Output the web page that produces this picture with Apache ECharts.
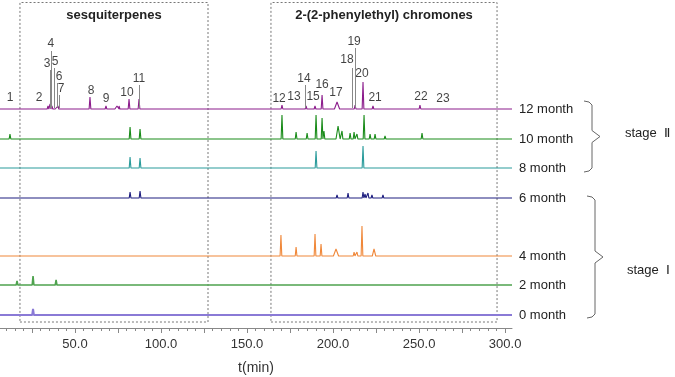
<!DOCTYPE html>
<html lang="en">
<head>
  <meta charset="UTF-8" />
  <title>Chromatograms</title>
  <script src="https://cdn.jsdelivr.net/npm/echarts@6.0.0/dist/echarts.min.js"></script>
  <style>
    html, body { margin: 0; padding: 0; background: #fff; }
    #chart { width: 675px; height: 377px; }
  </style>
</head>
<body>
  <div id="chart"></div>
  <script>
    // retention time range shown (min)
    var tMin = 6.4;
    var tMax = 304;

    var sampleNames = ['12 month', '10 month', '8 month', '6 month', '4 month', '2 month', '0 month'];
    var sampleColors = ['#8c1d8c', '#1a8c1a', '#2b9c9c', '#1f1f80', '#f0883a', '#4fa34f', '#8a7ad6'];
    var sampleWidths = [1.1, 1.1, 1.1, 1.1, 1.1, 1.6, 2];
    // vertical stacking offset of each trace
    var sampleOffsets = [219, 189, 160, 130, 72, 43, 13];

    // peaks: [retention time, height, half width]
    var peaks12 = [[12.8,1.5],[30.2,2],[34.3,3],[35.5,5],[36.6,3],[39.0,2],[40.1,3],[58.7,12],[68.0,3],
      [74.4,3,1.2],[75.6,3],[81.4,10],[87.2,10],[101.2,1],[170.3,4],[178.5,2],[184.3,3],[189.5,3],
      [193.6,14],[202.3,7,1.5],[211.0,2],[212.8,4],[217.4,27],[223.2,3],[229.6,1.5,1],[250.5,4],[285.4,1]];
    var peaks10 = [[12.2,5],[30.8,2],[37.2,1],[39.5,1],[58.7,2],[65.7,1],[75.6,1],[82.0,12],[87.8,10],
      [101.2,2],[109.9,1],[170.3,24],[178.5,7],[184.9,6],[190.1,24],[193.6,21],[194.7,8],[202.9,13,1.2],
      [205.2,8],[209.9,6],[212.2,7],[213.9,5],[218.0,24],[221.5,5],[224.4,5],[230.2,3],[251.7,6],
      [263.3,1],[277.9,1]];
    var peaks8 = [[30.8,1],[37.2,1],[44.2,1],[46.5,2],[58.1,2],[66.3,1],[75.6,1],[82.0,11],[87.8,10],
      [93.0,2],[101.7,2],[109.9,2],[113.4,2],[168.6,1],[190.1,17],[192.4,2],[197.1,1],[202.3,1],
      [208.7,2],[213.3,2],[217.4,22],[250.5,1],[277.9,1]];
    var peaks6 = [[45.9,1],[58.7,1],[68.0,1],[80.2,1],[82.0,6],[87.8,7],[93.0,2],[101.2,2],[109.9,2],
      [111.6,2],[170.3,1],[179.0,1],[184.9,1],[189.5,2],[193.0,2],[202.3,3],[204.6,2],[208.7,5],
      [217.4,6],[218.6,4],[220.3,5],[222.6,3],[229.0,3],[251.1,1],[277.9,2]];
    var peaks4 = [[13.4,1],[30.8,1],[40.1,1],[42.4,1],[58.1,2],[80.8,2],[86.0,2],[100.6,1],[169.7,21],
      [178.5,9],[184.9,2],[189.5,22],[193.0,12],[201.7,7,1.5],[212.2,4],[213.9,4],[216.8,30],
      [223.8,7,1],[235.4,1],[249.4,1]];
    var peaks2 = [[16.3,4],[25.6,9],[39.0,5],[62.8,2],[87.8,1],[97.7,1],[144.2,1],[170.9,1]];
    var peaks0 = [[16.3,1],[25.6,6]];
    var samplePeaks = [peaks12, peaks10, peaks8, peaks6, peaks4, peaks2, peaks0];

    // numbered peaks on the 12 month trace: label position and label height
    var peakNums = ['1','2','3','4','5','6','7','8','9','10','11','12','13','14','15','16','17','18','19','20','21','22','23'];
    var peakLabelT = [12.2,29.1,33.7,36.0,38.4,40.7,41.9,59.3,68.0,80.2,87.2,168.6,177.3,183.1,188.4,193.6,201.7,208.1,212.2,216.8,224.4,251.1,263.9];
    var peakLabelH = [11,11,45,65,47,32,20,18,10,16,30,10,12,30,12,24,16,49,67,35,11,12,10];
    // leader lines: [retention time, top height]
    var leaders = [[35.5,39],[36.0,58],[37.8,41],[39.5,26],[40.7,14],[87.2,24],[183.7,24],[211.0,41],[212.8,61]];

    var boxes = [
      { name: 'sesquiterpenes', from: 18.0, to: 127.3 },
      { name: '2-(2-phenylethyl) chromones', from: 163.9, to: 295.3 }
    ];

    var labelTicks = [50, 100, 150, 200, 250, 300];
    var majorTicks = [25, 50, 75, 100, 125, 150, 175, 200, 225, 250, 275, 300];
    var minorTicks = [];
    for (var m = 10; m <= 300; m += 5) minorTicks.push(m);

    function trace(peaks, base) {
      var pts = [[tMin, base]];
      peaks.slice().sort(function (a, b) { return a[0] - b[0]; }).forEach(function (p) {
        var w = p[2] || 0.5;
        pts.push([p[0] - w, base], [p[0], base + p[1]], [p[0] + w, base]);
      });
      pts.push([tMax, base]);
      return pts;
    }

    // curly brace as a polyline, opening to the left
    function brace(x, y1, y2) {
      var mid = (y1 + y2) / 2;
      return [[x - 8, y1], [x - 3, y1 + 1], [x, y1 + 4], [x, mid - 6], [x + 8, mid],
        [x, mid + 6], [x, y2 - 4], [x - 3, y2 - 1], [x - 8, y2]];
    }

    var chart = echarts.init(document.getElementById('chart'));
    var series = [];

    sampleNames.forEach(function (name, i) {
      var s = {
        name: name,
        type: 'line',
        data: trace(samplePeaks[i], sampleOffsets[i]),
        showSymbol: false,
        silent: true,
        lineStyle: { color: sampleColors[i], width: sampleWidths[i] },
        endLabel: {
          show: true,
          formatter: '{a}',
          distance: 7,
          color: '#222',
          fontSize: 13,
          fontFamily: 'Arial, Liberation Sans, sans-serif'
        },
        z: 3
      };
      if (i === 0) {
        s.markArea = {
          silent: true,
          itemStyle: { color: 'rgba(0,0,0,0)', borderColor: '#777', borderWidth: 1, borderType: [2, 2] },
          label: {
            position: 'insideTop', distance: 7, color: '#222', fontWeight: 'bold',
            fontSize: 13, fontFamily: 'Arial, Liberation Sans, sans-serif'
          },
          data: boxes.map(function (b) {
            return [{ name: b.name, xAxis: b.from, yAxis: 6 }, { xAxis: b.to, yAxis: 325.5 }];
          })
        };
      }
      series.push(s);
    });

    var base12 = sampleOffsets[0];
    series.push({
      name: 'peak numbers',
      type: 'scatter',
      symbolSize: 0,
      silent: true,
      data: peakNums.map(function (n, i) {
        return { name: n, value: [peakLabelT[i], base12 + peakLabelH[i]] };
      }),
      label: {
        show: true, position: 'inside', formatter: '{b}', color: '#111',
        fontSize: 12, fontFamily: 'Arial, Liberation Sans, sans-serif'
      },
      markLine: {
        silent: true,
        symbol: 'none',
        label: { show: false },
        lineStyle: { color: '#888', width: 1, type: 'solid' },
        data: leaders.map(function (l) {
          return [{ coord: [l[0], base12 + 1] }, { coord: [l[0], base12 + l[1]] }];
        })
      },
      z: 4
    });

    var option = {
      animation: false,
      backgroundColor: '#fff',
      grid: { left: 0, top: 0, width: 512, height: 328, outerBoundsMode: 'none' },
      xAxis: [{
        type: 'value',
        min: tMin,
        max: tMax,
        axisLine: { lineStyle: { color: '#888' } },
        axisTick: { customValues: majorTicks, length: 5, lineStyle: { color: '#888' } },
        axisLabel: {
          customValues: labelTicks,
          formatter: function (v) { return v.toFixed(1); },
          color: '#333', fontSize: 13, margin: 10,
          fontFamily: 'Arial, Liberation Sans, sans-serif'
        },
        splitLine: { show: false },
        name: 't(min)',
        nameLocation: 'middle',
        nameGap: 33,
        nameTextStyle: { color: '#333', fontSize: 14, fontFamily: 'Arial, Liberation Sans, sans-serif' }
      }, {
        type: 'value',
        min: tMin,
        max: tMax,
        position: 'bottom',
        axisLine: { show: false },
        axisTick: { customValues: minorTicks, length: 3, lineStyle: { color: '#888' } },
        axisLabel: { show: false },
        splitLine: { show: false }
      }],
      yAxis: { type: 'value', min: 0, max: 328, show: false },
      graphic: [
        {
          type: 'polyline',
          shape: { points: brace(592, 101, 172) },
          style: { fill: null, stroke: '#666', lineWidth: 1 }
        },
        {
          type: 'polyline',
          shape: { points: brace(595, 196, 318) },
          style: { fill: null, stroke: '#666', lineWidth: 1 }
        },
        {
          type: 'text', left: 625, top: 127,
          style: { text: 'stage  \u2161', fill: '#222', fontSize: 13, fontFamily: 'Arial, Liberation Sans, sans-serif' }
        },
        {
          type: 'text', left: 627, top: 264,
          style: { text: 'stage  \u2160', fill: '#222', fontSize: 13, fontFamily: 'Arial, Liberation Sans, sans-serif' }
        }
      ],
      series: series
    };

    chart.setOption(option);
  </script>
</body>
</html>
